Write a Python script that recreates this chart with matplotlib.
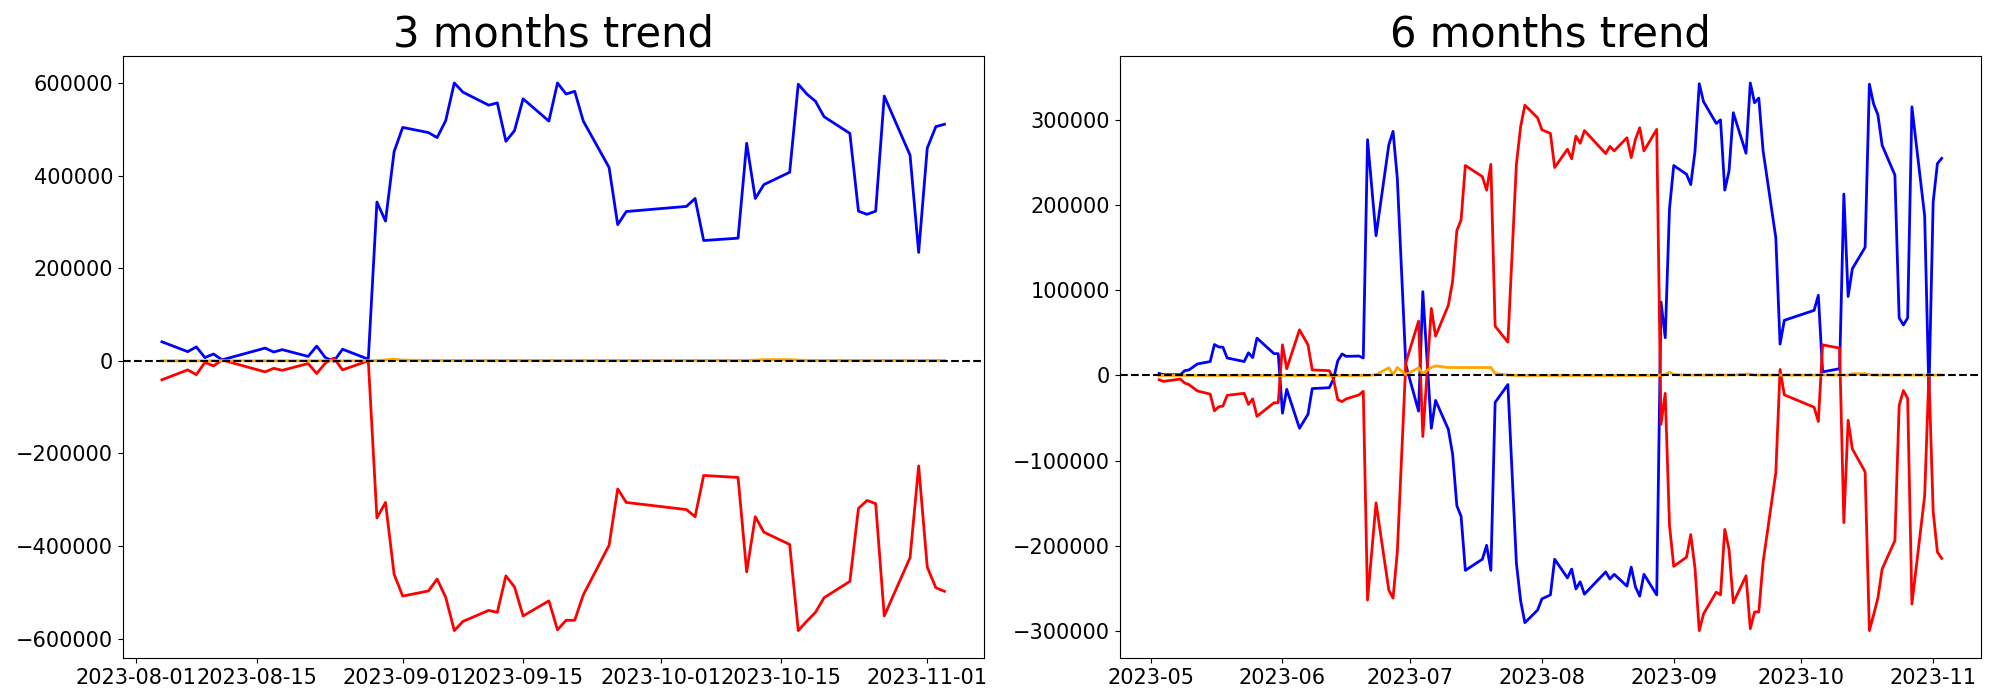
import pandas as pd
import matplotlib
matplotlib.use('Agg')
import matplotlib.pyplot as plt

# 3 个月数据
dates3 = ['2023-08-04', '2023-08-07', '2023-08-08', '2023-08-09', '2023-08-10', '2023-08-11',
          '2023-08-16', '2023-08-17', '2023-08-18', '2023-08-21', '2023-08-22', '2023-08-23',
          '2023-08-24', '2023-08-25', '2023-08-28', '2023-08-29', '2023-08-30', '2023-08-31',
          '2023-09-01', '2023-09-04', '2023-09-05', '2023-09-06', '2023-09-07', '2023-09-08',
          '2023-09-11', '2023-09-12', '2023-09-13', '2023-09-14', '2023-09-15', '2023-09-18',
          '2023-09-19', '2023-09-20', '2023-09-21', '2023-09-22', '2023-09-25', '2023-09-26',
          '2023-09-27', '2023-10-04', '2023-10-05', '2023-10-06', '2023-10-10', '2023-10-11',
          '2023-10-12', '2023-10-13', '2023-10-16', '2023-10-17', '2023-10-18', '2023-10-19',
          '2023-10-20', '2023-10-23', '2023-10-24', '2023-10-25', '2023-10-26', '2023-10-27',
          '2023-10-30', '2023-10-31', '2023-11-01', '2023-11-02', '2023-11-03']
blue3 = [41000, 19700, 30000, 6900, 14600, 2000, 27400, 18900, 24000, 9400, 31700, 6900,
         -1000, 24900, 3400, 342800, 301700, 451700,
         504000, 492800, 482000, 518600, 600000, 580200, 552000, 557000, 474000, 497000,
         565700, 517700, 600000, 576000, 582000, 517700, 417400, 294000, 322300,
         333400, 350500, 259700, 264800, 469700, 350500, 380500, 407100, 597400, 576000,
         560500, 527100, 491100, 323100, 316300, 323100, 571700, 444000, 234000,
         459400, 505700, 510800]
red3 = [-41100, -19700, -30000, -3400, -11100, 1700, -24000, -16300, -20600, -6000, -27400, -5100,
        6000, -19700, 0, -339400, -306000, -461100,
        -508200, -497100, -471400, -510800, -582800, -563000, -539100, -543400, -464500, -488500,
        -551100, -518500, -581100, -560500, -560500, -505600, -398500, -276800, -306000,
        -321400, -336800, -247700, -252000, -456000, -336800, -370200, -396800, -582800, -562200,
        -543400, -511700, -476500, -318800, -301700, -308500, -551100, -425100, -227100,
        -445700, -490200, -497900]
orange3 = [0, 0, 0, 0, 0, 0, 0, 0, 0, 0, 0, 0,
           0, 0, 0, 500, 2000, 3500,
           1500, 800, 800, 800, 800, 800, 800, 800, 800, 800,
           800, 800, 800, 800, 800, 800, 800, 800, 800,
           800, 800, 800, 800, 800, 1500, 2500, 2500, 1500, 800,
           800, 800, 800, 800, 800, 800, 800, 800, 800,
           800, 800, 800]

# 6 个月数据
dates6 = ['2023-05-03', '2023-05-04', '2023-05-08', '2023-05-09', '2023-05-10', '2023-05-12',
          '2023-05-15', '2023-05-16', '2023-05-17', '2023-05-18', '2023-05-19', '2023-05-23',
          '2023-05-24', '2023-05-25', '2023-05-26', '2023-05-30', '2023-05-31',
          '2023-06-01', '2023-06-02', '2023-06-05', '2023-06-07', '2023-06-08', '2023-06-12',
          '2023-06-13', '2023-06-14', '2023-06-15', '2023-06-16', '2023-06-19', '2023-06-20',
          '2023-06-21', '2023-06-23', '2023-06-26', '2023-06-27', '2023-06-28', '2023-06-30',
          '2023-07-03', '2023-07-04', '2023-07-06', '2023-07-07', '2023-07-10', '2023-07-11',
          '2023-07-12', '2023-07-13', '2023-07-14', '2023-07-18', '2023-07-19', '2023-07-20',
          '2023-07-21', '2023-07-24', '2023-07-26', '2023-07-27', '2023-07-28', '2023-07-31',
          '2023-08-01', '2023-08-03', '2023-08-04', '2023-08-07', '2023-08-08', '2023-08-09',
          '2023-08-10', '2023-08-11', '2023-08-16', '2023-08-17', '2023-08-18', '2023-08-21',
          '2023-08-22', '2023-08-23', '2023-08-24', '2023-08-25', '2023-08-28', '2023-08-29',
          '2023-08-30', '2023-08-31',
          '2023-09-01', '2023-09-04', '2023-09-05', '2023-09-06', '2023-09-07', '2023-09-08',
          '2023-09-11', '2023-09-12', '2023-09-13', '2023-09-14', '2023-09-15', '2023-09-18',
          '2023-09-19', '2023-09-20', '2023-09-21', '2023-09-22', '2023-09-25', '2023-09-26',
          '2023-09-27',
          '2023-10-04', '2023-10-05', '2023-10-06', '2023-10-10', '2023-10-11', '2023-10-12',
          '2023-10-13', '2023-10-16', '2023-10-17', '2023-10-18', '2023-10-19', '2023-10-20',
          '2023-10-23', '2023-10-24', '2023-10-25', '2023-10-26', '2023-10-27', '2023-10-30',
          '2023-10-31', '2023-11-01', '2023-11-02', '2023-11-03']
blue6 = [2300, 900, 900, 5600, 6500, 13500, 16300, 36300, 33500, 33100, 20500, 16300,
         26600, 21000, 43800, 25600, 25600,
         -44300, -16300, -62000, -45600, -15400, -14400, -4200, 17200, 25200, 22400, 22800, 20500,
         276700, 164000, 270600, 286500, 231500, 12600,
         -41900, 98300, -62000, -29300, -63300, -92200, -152800, -165400, -228800, -215700,
         -199400, -228800, -31700, -10700, -220300, -264500, -290200, -275300,
         -262200, -257600, -215700, -237600, -227300, -250600, -242200, -256700, -230600,
         -239000, -233400, -247300, -225000, -248300, -259000, -233400, -257600, 86200,
         44300, 195600,
         246400, 236200, 224000, 263200, 342400, 321400, 295800, 300000, 217500, 239900,
         308400, 260800, 343300, 320000, 325600, 264100, 161600, 36800, 64700,
         76400, 94100, 4200, 7900, 212900, 92700, 125300, 150400, 341900, 318600, 306000,
         270200, 235200, 67500, 59200, 67500, 315300, 187300, -21000,
         203600, 248700, 254800]
red6 = [-5100, -7000, -4200, -8900, -10700, -18200, -21900, -41500, -36800, -35900, -23300, -21000,
        -34000, -27500, -48000, -32100, -32100,
        35900, 7900, 53600, 35900, 6500, 5600, -4200, -28400, -30700, -27500, -22800, -18600,
        -263600, -149500, -252000, -261300, -207300, 14900,
        63800, -71700, 78700, 46100, 82400, 110400, 170000, 182600, 246400, 233400,
        217500, 247800, 57800, 39100, 247800, 292100, 317200, 302300,
        288300, 284100, 244100, 265500, 254300, 280900, 272500, 287400, 260400,
        268800, 263600, 279000, 255700, 277200, 290700, 263600, 288800, -57300,
        -21000, -176100,
        -224000, -213300, -186800, -226400, -299500, -279900, -254300, -257600, -180700, -204000,
        -266900, -235200, -297200, -277600, -277600, -219400, -114100, 7000, -22800,
        -37300, -54000, 35900, 32100, -172800, -52600, -86200, -113200, -299500, -280900, -261300,
        -227300, -193800, -35400, -17700, -27000, -268300, -141100, 900,
        -159800, -207300, -214700]
orange6 = [0, 0, 0, 0, 0, 0, 0, 0, 0, 0, 0, 0,
           0, 0, 0, 0, 0,
           0, 0, 0, 0, 0, 0, 0, 0, 0, 0, 0, 0,
           0, 900, 8900, 900, 9300, 900,
           8900, 2300, 9300, 11200, 9300, 9300, 9300, 9300, 9300, 9300,
           9300, 9300, 2300, 500, 0, 0, 0, 0,
           0, 0, 0, 0, 0, 0, 0, 0, 0,
           0, 0, 0, 0, 0, 0, 0, 0, 500,
           1000, 4000,
           1000, 500, 500, 500, 500, 500, 500, 500, 500, 500,
           500, 1500, 1500, 500, 500, 500, 500, 500, 500,
           500, 500, 500, 500, 500, 500, 2000, 2000, 1000, 500, 500,
           500, 500, 500, 500, 500, 500, 500, 500,
           500, 500, 500]


def draw(ax, dates, blue, red, orange, title):
    x = pd.to_datetime(dates)
    ax.plot(x, blue, c='b', linewidth=2)
    ax.plot(x, red, c='r', linewidth=2)
    ax.plot(x, orange, c='orange', linewidth=2)
    ax.axhline(0, color='black', linestyle='--', linewidth=1.5)
    ax.set_title(title, fontsize=30)
    ax.tick_params(labelsize=15)


fig, axes = plt.subplots(1, 2, figsize=(20, 7))
fig.subplots_adjust(left=0.0614, right=0.9904, bottom=0.06, top=0.9206, wspace=0.1585)
draw(axes[0], dates3, blue3, red3, orange3, '3 months trend')
draw(axes[1], dates6, blue6, red6, orange6, '6 months trend')

plt.savefig('out.png', dpi=100)
print('finish')
